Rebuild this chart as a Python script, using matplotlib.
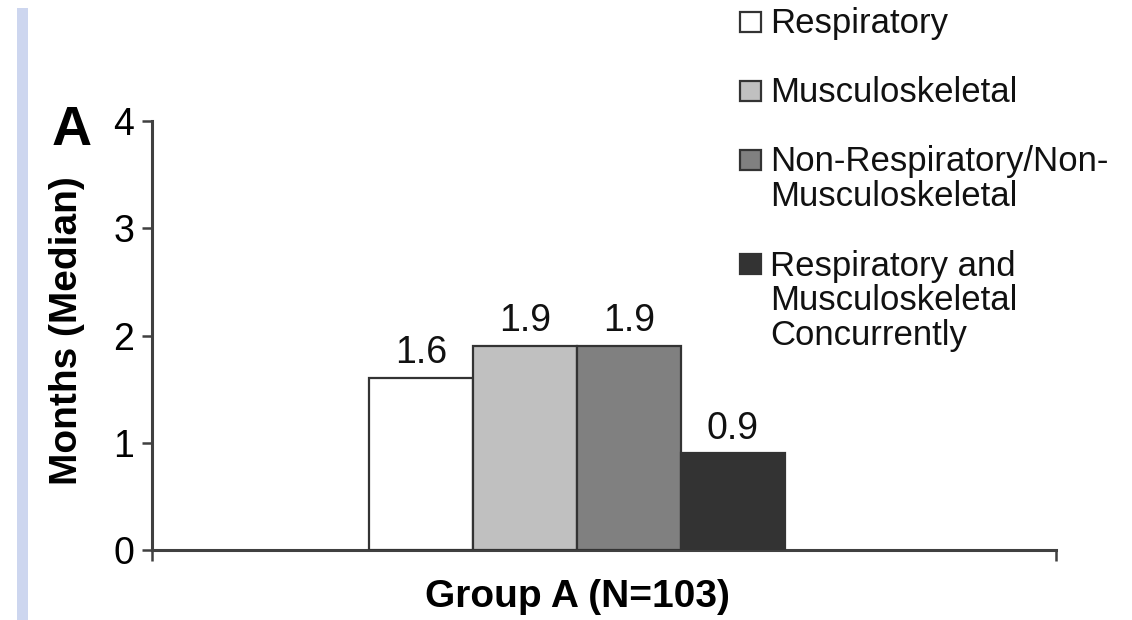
import matplotlib.pyplot as plt
from matplotlib.patches import Rectangle
import numpy as np

plt.rcParams['font.family'] = ['Liberation Sans', 'DejaVu Sans']

# data
categories = ["Respiratory", "Musculoskeletal",
              "Non-Respiratory/Non-\nMusculoskeletal",
              "Respiratory and\nMusculoskeletal\nConcurrently"]
months = [1.6, 1.9, 1.9, 0.9]
bar_colors = ["#ffffff", "#c0c0c0", "#808080", "#333333"]
group_label = "Group A (N=103)"
yticks = [0, 1, 2, 3, 4]

W, H = 1132, 620
fig = plt.figure(figsize=(W / 100, H / 100), dpi=100)

# axes placed in pixel terms
ax_l, ax_r, ax_t, ax_b = 152, 1056, 121, 550
ax = fig.add_axes([ax_l / W, 1 - ax_b / H, (ax_r - ax_l) / W, (ax_b - ax_t) / H])

bar_w = 104 / (ax_r - ax_l)
center = (577 - ax_l) / (ax_r - ax_l)
xpos = center + (np.arange(len(months)) - 1.5) * bar_w
bars = ax.bar(xpos, months, width=bar_w, color=bar_colors,
              edgecolor="#333333", linewidth=1.6, zorder=3)

for x, v in zip(xpos, months):
    ax.annotate(f"{v:.1f}", (x, v), xytext=(0, 5), textcoords="offset points",
                ha="center", va="bottom", fontsize=27, color="#111111")

ax.set_xlim(0, 1)
ax.set_ylim(0, 4)
ax.set_yticks(yticks)
ax.set_xticks([0, 1])
ax.set_xticklabels([])
ax.tick_params(axis="y", direction="out", length=7, width=1.8, color="#404040",
               labelsize=27, pad=6)
ax.tick_params(axis="x", direction="out", length=8, width=1.8, color="#404040")
for s in ["top", "right"]:
    ax.spines[s].set_visible(False)
for s in ["left", "bottom"]:
    ax.spines[s].set_color("#404040")
    ax.spines[s].set_linewidth(2.2)

# group label under the bars
ax.text(center, -0.11, group_label, transform=ax.get_xaxis_transform(),
        ha="center", va="center", fontsize=28, fontweight="bold")

# y label and panel letter
fig.text(67 / W, 1 - 331 / H, "Months (Median)", rotation=90, ha="center",
         va="center", fontsize=28, fontweight="bold")
fig.text(52 / W, 1 - 145 / H, "A", ha="left", va="baseline", fontsize=40,
         fontweight="bold")

# lavender strip on the left
fig.patches.append(Rectangle((17 / W, 0), 11 / W, 1 - 8 / H, transform=fig.transFigure,
                             facecolor="#cdd6ef", edgecolor="none"))

# legend drawn by hand, first-line baseline cursor
pitch = 35
y = 33
for lab, col in zip(categories, bar_colors):
    n = lab.count("\n") + 1
    fig.patches.append(Rectangle((740 / W, 1 - (y - 1) / H), 21 / W, 20 / H,
                                 transform=fig.transFigure, facecolor=col,
                                 edgecolor="#333333", linewidth=1.6))
    # baseline alignment uses the last line, so shift down by the extra lines
    fig.text(770 / W, 1 - (y + pitch * (n - 1)) / H, lab, ha="left", va="baseline",
             fontsize=25, linespacing=1.06, color="#111111")
    y += pitch * n + 34

fig.savefig("out.png", dpi=100)
